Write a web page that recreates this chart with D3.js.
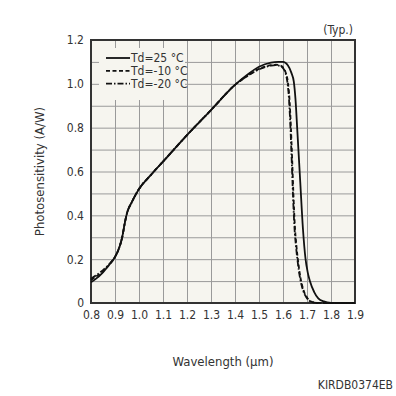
<!DOCTYPE html>
<html>
<head>
<meta charset="utf-8">
<script src="https://cdn.jsdelivr.net/npm/d3@7"></script>
<style>
  html, body { margin: 0; padding: 0; background: #fff; }
  svg { display: block; font-family: "DejaVu Sans Condensed", "DejaVu Sans", sans-serif; }
</style>
</head>
<body>
<div id="chart"></div>
<script>
// Photosensitivity vs wavelength, three detector temperatures

const xTicks = [0.8, 0.9, 1.0, 1.1, 1.2, 1.3, 1.4, 1.5, 1.6, 1.7, 1.8, 1.9];
const yTicks = [0, 0.2, 0.4, 0.6, 0.8, 1.0, 1.2];
const legendLabels = ['Td=25 °C', 'Td=-10 °C', 'Td=-20 °C'];

const wl25 = [0.80, 0.82, 0.85, 0.88, 0.90, 0.92, 0.93, 0.94, 0.95, 0.97, 1.00, 1.05, 1.10, 1.20, 1.30, 1.40, 1.45, 1.50, 1.55, 1.58, 1.60, 1.62, 1.635, 1.645, 1.652, 1.66, 1.672, 1.683, 1.694, 1.703, 1.712, 1.73, 1.747, 1.77, 1.80, 1.85, 1.90];
const ps25 = [0.095, 0.11, 0.14, 0.18, 0.21, 0.26, 0.30, 0.36, 0.41, 0.46, 0.52, 0.585, 0.645, 0.766, 0.88, 0.995, 1.04, 1.078, 1.097, 1.10, 1.10, 1.085, 1.05, 1.01, 0.93, 0.78, 0.55, 0.34, 0.20, 0.14, 0.10, 0.05, 0.021, 0.007, 0.001, 0, 0];

const wlM10 = [0.80, 0.82, 0.85, 0.88, 0.90, 0.92, 0.93, 0.94, 0.95, 0.97, 1.00, 1.05, 1.10, 1.20, 1.30, 1.40, 1.45, 1.50, 1.55, 1.57, 1.59, 1.60, 1.61, 1.62, 1.627, 1.633, 1.638, 1.644, 1.65, 1.656, 1.663, 1.672, 1.685, 1.70, 1.715, 1.74, 1.80, 1.90];
const psM10 = [0.105, 0.12, 0.145, 0.18, 0.21, 0.26, 0.30, 0.36, 0.41, 0.46, 0.52, 0.585, 0.645, 0.766, 0.88, 0.995, 1.035, 1.068, 1.085, 1.087, 1.083, 1.075, 1.055, 1.01, 0.93, 0.80, 0.66, 0.48, 0.34, 0.26, 0.19, 0.12, 0.06, 0.025, 0.008, 0.001, 0, 0];

const wlM20 = [0.80, 0.82, 0.85, 0.88, 0.90, 0.92, 0.93, 0.94, 0.95, 0.97, 1.00, 1.05, 1.10, 1.20, 1.30, 1.40, 1.45, 1.50, 1.55, 1.57, 1.59, 1.60, 1.61, 1.618, 1.625, 1.631, 1.636, 1.642, 1.648, 1.654, 1.661, 1.67, 1.683, 1.698, 1.713, 1.738, 1.80, 1.90];
const psM20 = [0.11, 0.125, 0.15, 0.182, 0.21, 0.26, 0.30, 0.36, 0.41, 0.46, 0.52, 0.585, 0.645, 0.766, 0.88, 0.995, 1.035, 1.066, 1.083, 1.085, 1.08, 1.072, 1.05, 1.01, 0.93, 0.80, 0.66, 0.48, 0.34, 0.26, 0.19, 0.12, 0.06, 0.025, 0.008, 0.001, 0, 0];

const width = 396;
const height = 396;
const margin = { top: 40, right: 41, bottom: 93, left: 91 };
const innerW = width - margin.left - margin.right;
const innerH = height - margin.top - margin.bottom;
const font = '"DejaVu Sans Condensed", "DejaVu Sans", sans-serif';

const svg = d3.select('#chart').append('svg')
  .attr('width', width)
  .attr('height', height);

const g = svg.append('g')
  .attr('transform', `translate(${margin.left},${margin.top})`);

const x = d3.scaleLinear().domain([0.8, 1.9]).range([0, innerW]);
const y = d3.scaleLinear().domain([0, 1.2]).range([innerH, 0]);

// Plot background
g.append('rect')
  .attr('width', innerW)
  .attr('height', innerH)
  .attr('fill', '#f6f5ef');

// Grid lines every 0.1
const gridY = d3.range(1, 12).map(i => i / 10);
g.append('g')
  .call(d3.axisLeft(y).tickValues(gridY).tickSize(-innerW).tickFormat(''))
  .call(a => a.select('.domain').remove())
  .selectAll('line').attr('stroke', '#9a9a9a').attr('stroke-width', 1);

g.append('g')
  .attr('transform', `translate(0,${innerH})`)
  .call(d3.axisBottom(x).tickValues(xTicks.slice(1, -1)).tickSize(-innerH).tickFormat(''))
  .call(a => a.select('.domain').remove())
  .selectAll('line').attr('stroke', '#9a9a9a').attr('stroke-width', 1);

// Legend background hides the grid behind it
g.append('rect')
  .attr('x', 8)
  .attr('y', 8)
  .attr('width', 86)
  .attr('height', 52)
  .attr('fill', '#f6f5ef');

// Frame
g.append('rect')
  .attr('width', innerW)
  .attr('height', innerH)
  .attr('fill', 'none')
  .attr('stroke', '#333')
  .attr('stroke-width', 2);

// Axis labels
const xAxis = g.append('g')
  .attr('transform', `translate(0,${innerH})`)
  .call(d3.axisBottom(x).tickValues(xTicks).tickSize(0).tickPadding(7).tickFormat(d3.format('.1f')));
xAxis.select('.domain').remove();
xAxis.selectAll('text').attr('fill', '#333').attr('font-size', '12px').attr('font-family', font);

const yAxis = g.append('g')
  .call(d3.axisLeft(y).tickValues(yTicks).tickSize(0).tickPadding(7).tickFormat(d => d === 0 ? '0' : d3.format('.1f')(d)));
yAxis.select('.domain').remove();
yAxis.selectAll('text').attr('fill', '#333').attr('font-size', '12px').attr('font-family', font);

// Curves
const line = d3.line()
  .x(d => x(d[0]))
  .y(d => y(d[1]))
  .curve(d3.curveMonotoneX);

const series = [
  { wl: wl25, ps: ps25, dash: null },
  { wl: wlM10, ps: psM10, dash: '4,2.5' },
  { wl: wlM20, ps: psM20, dash: '6,2,1.5,2' }
];

series.forEach(s => {
  g.append('path')
    .datum(d3.zip(s.wl, s.ps))
    .attr('fill', 'none')
    .attr('stroke', '#111')
    .attr('stroke-width', 1.8)
    .attr('stroke-dasharray', s.dash)
    .attr('d', line);
});

// Legend
const legend = g.append('g').attr('transform', 'translate(15,18)');
series.forEach((s, i) => {
  const row = legend.append('g').attr('transform', `translate(0,${i * 12.8})`);
  row.append('line')
    .attr('x1', 0).attr('x2', 24)
    .attr('stroke', '#111')
    .attr('stroke-width', 1.8)
    .attr('stroke-dasharray', s.dash);
  row.append('text')
    .attr('x', 25)
    .attr('dy', '0.35em')
    .attr('font-size', '12px')
    .attr('fill', '#333')
    .text(legendLabels[i]);
});

// Titles
svg.append('text')
  .attr('x', margin.left + innerW / 2)
  .attr('y', 366)
  .attr('text-anchor', 'middle')
  .attr('font-size', '13px')
  .attr('fill', '#333')
  .text('Wavelength (µm)');

svg.append('text')
  .attr('transform', `translate(44,${margin.top + innerH / 2}) rotate(-90)`)
  .attr('text-anchor', 'middle')
  .attr('font-size', '13px')
  .attr('fill', '#333')
  .text('Photosensitivity (A/W)');

svg.append('text')
  .attr('x', 353)
  .attr('y', 34)
  .attr('text-anchor', 'end')
  .attr('font-size', '12px')
  .attr('fill', '#333')
  .text('(Typ.)');

svg.append('text')
  .attr('x', 393)
  .attr('y', 389)
  .attr('text-anchor', 'end')
  .attr('font-size', '12px')
  .attr('fill', '#333')
  .text('KIRDB0374EB');
</script>
</body>
</html>
